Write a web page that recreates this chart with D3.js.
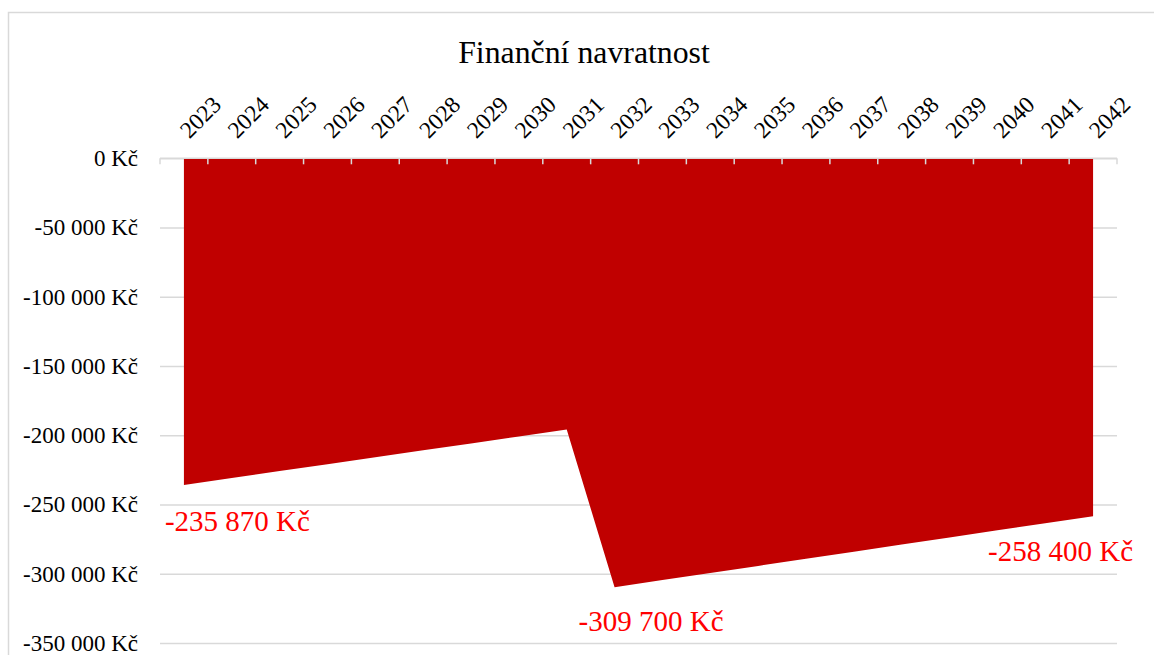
<!DOCTYPE html>
<html>
<head>
<meta charset="utf-8">
<script src="https://cdn.jsdelivr.net/npm/d3@7"></script>
<style>
    body { margin: 0; background: #fff; }
    svg text { font-family: "Liberation Serif", "Times New Roman", serif; }
</style>
</head>
<body>
<div class="chart"></div>
<script>
// Data
const years = ['2023', '2024', '2025', '2026', '2027', '2028', '2029', '2030', '2031', '2032',
    '2033', '2034', '2035', '2036', '2037', '2038', '2039', '2040', '2041', '2042'];
const balance = [-235870, -230870, -225870, -220870, -215870, -210870, -205870, -200870, -195870,
    -309700, -304570, -299440, -294310, -289180, -284050, -278920, -273790, -268660, -263530, -258400];
const labelledYears = ['2023', '2032', '2042'];
const yTicks = [0, -50000, -100000, -150000, -200000, -250000, -300000, -350000];
const title = 'Finanční navratnost';

// Layout
const width = 1154;
const height = 655;
const plot = {left: 160, right: 1117, top: 158.3, bottom: 643};
const labelOffset = {'2023': [-19, 46], '2032': [-36, 44], '2042': [-105, 45]};

const locale = d3.formatLocale({
    decimal: ',',
    thousands: ' ',
    grouping: [3],
    currency: ['', ' Kč'],
    minus: '-'
});
const fmt = locale.format('$,.0f');

const svg = d3.select('.chart')
    .append('svg')
    .attr('width', width)
    .attr('height', height);

// chart border
svg.append('rect')
    .attr('x', 8.5)
    .attr('y', 12.5)
    .attr('width', 1180)
    .attr('height', 700)
    .attr('fill', 'none')
    .attr('stroke', '#d9d9d9')
    .attr('stroke-width', 1.5);

// Scales
const x = d3.scaleBand()
    .domain(years)
    .range([plot.left, plot.right]);

const y = d3.scaleLinear()
    .domain([-350000, 0])
    .range([plot.bottom, plot.top]);

const cx = d => x(d) + x.bandwidth() / 2;

// Gridlines and y labels
const yAxis = svg.append('g')
    .attr('transform', `translate(${plot.left},0)`)
    .call(d3.axisLeft(y)
        .tickValues(yTicks)
        .tickSize(-(plot.right - plot.left))
        .tickPadding(22)
        .tickFormat(fmt));

yAxis.select('.domain').remove();
yAxis.selectAll('.tick line')
    .attr('stroke', '#d9d9d9')
    .attr('stroke-width', 1.5);
yAxis.selectAll('.tick text')
    .attr('font-size', 23)
    .attr('fill', '#000');

// Area
const rows = years.map((yr, i) => ({year: yr, value: balance[i]}));

const area = d3.area()
    .x(d => cx(d.year))
    .y0(y(0))
    .y1(d => y(d.value));

svg.append('path')
    .datum(rows)
    .attr('d', area)
    .attr('fill', '#c00000');

// Category axis along zero
const axisG = svg.append('g');
axisG.append('line')
    .attr('x1', plot.left)
    .attr('x2', plot.right)
    .attr('y1', y(0))
    .attr('y2', y(0))
    .attr('stroke', '#d9d9d9')
    .attr('stroke-width', 1.5);

const edges = years.map(d => x(d)).concat([plot.right]);
axisG.selectAll('line.tick')
    .data(edges)
    .join('line')
    .attr('class', 'tick')
    .attr('x1', d => d)
    .attr('x2', d => d)
    .attr('y1', y(0))
    .attr('y2', y(0) + 6)
    .attr('stroke', '#d9d9d9')
    .attr('stroke-width', 1.5);

axisG.selectAll('text')
    .data(years)
    .join('text')
    .attr('transform', d => `translate(${cx(d)},134) rotate(-45)`)
    .attr('dy', '0.33em')
    .attr('font-size', 23.5)
    .attr('fill', '#000')
    .text(d => d);

// Data labels
svg.append('g')
    .selectAll('text')
    .data(rows.filter(d => labelledYears.includes(d.year)))
    .join('text')
    .attr('x', d => cx(d.year) + labelOffset[d.year][0])
    .attr('y', d => y(d.value) + labelOffset[d.year][1])
    .attr('font-size', 29)
    .attr('fill', '#ff0000')
    .text(d => fmt(d.value));

// Title
svg.append('text')
    .attr('x', 584)
    .attr('y', 62.5)
    .attr('text-anchor', 'middle')
    .attr('font-size', 31.8)
    .attr('fill', '#000')
    .text(title);
</script>
</body>
</html>
